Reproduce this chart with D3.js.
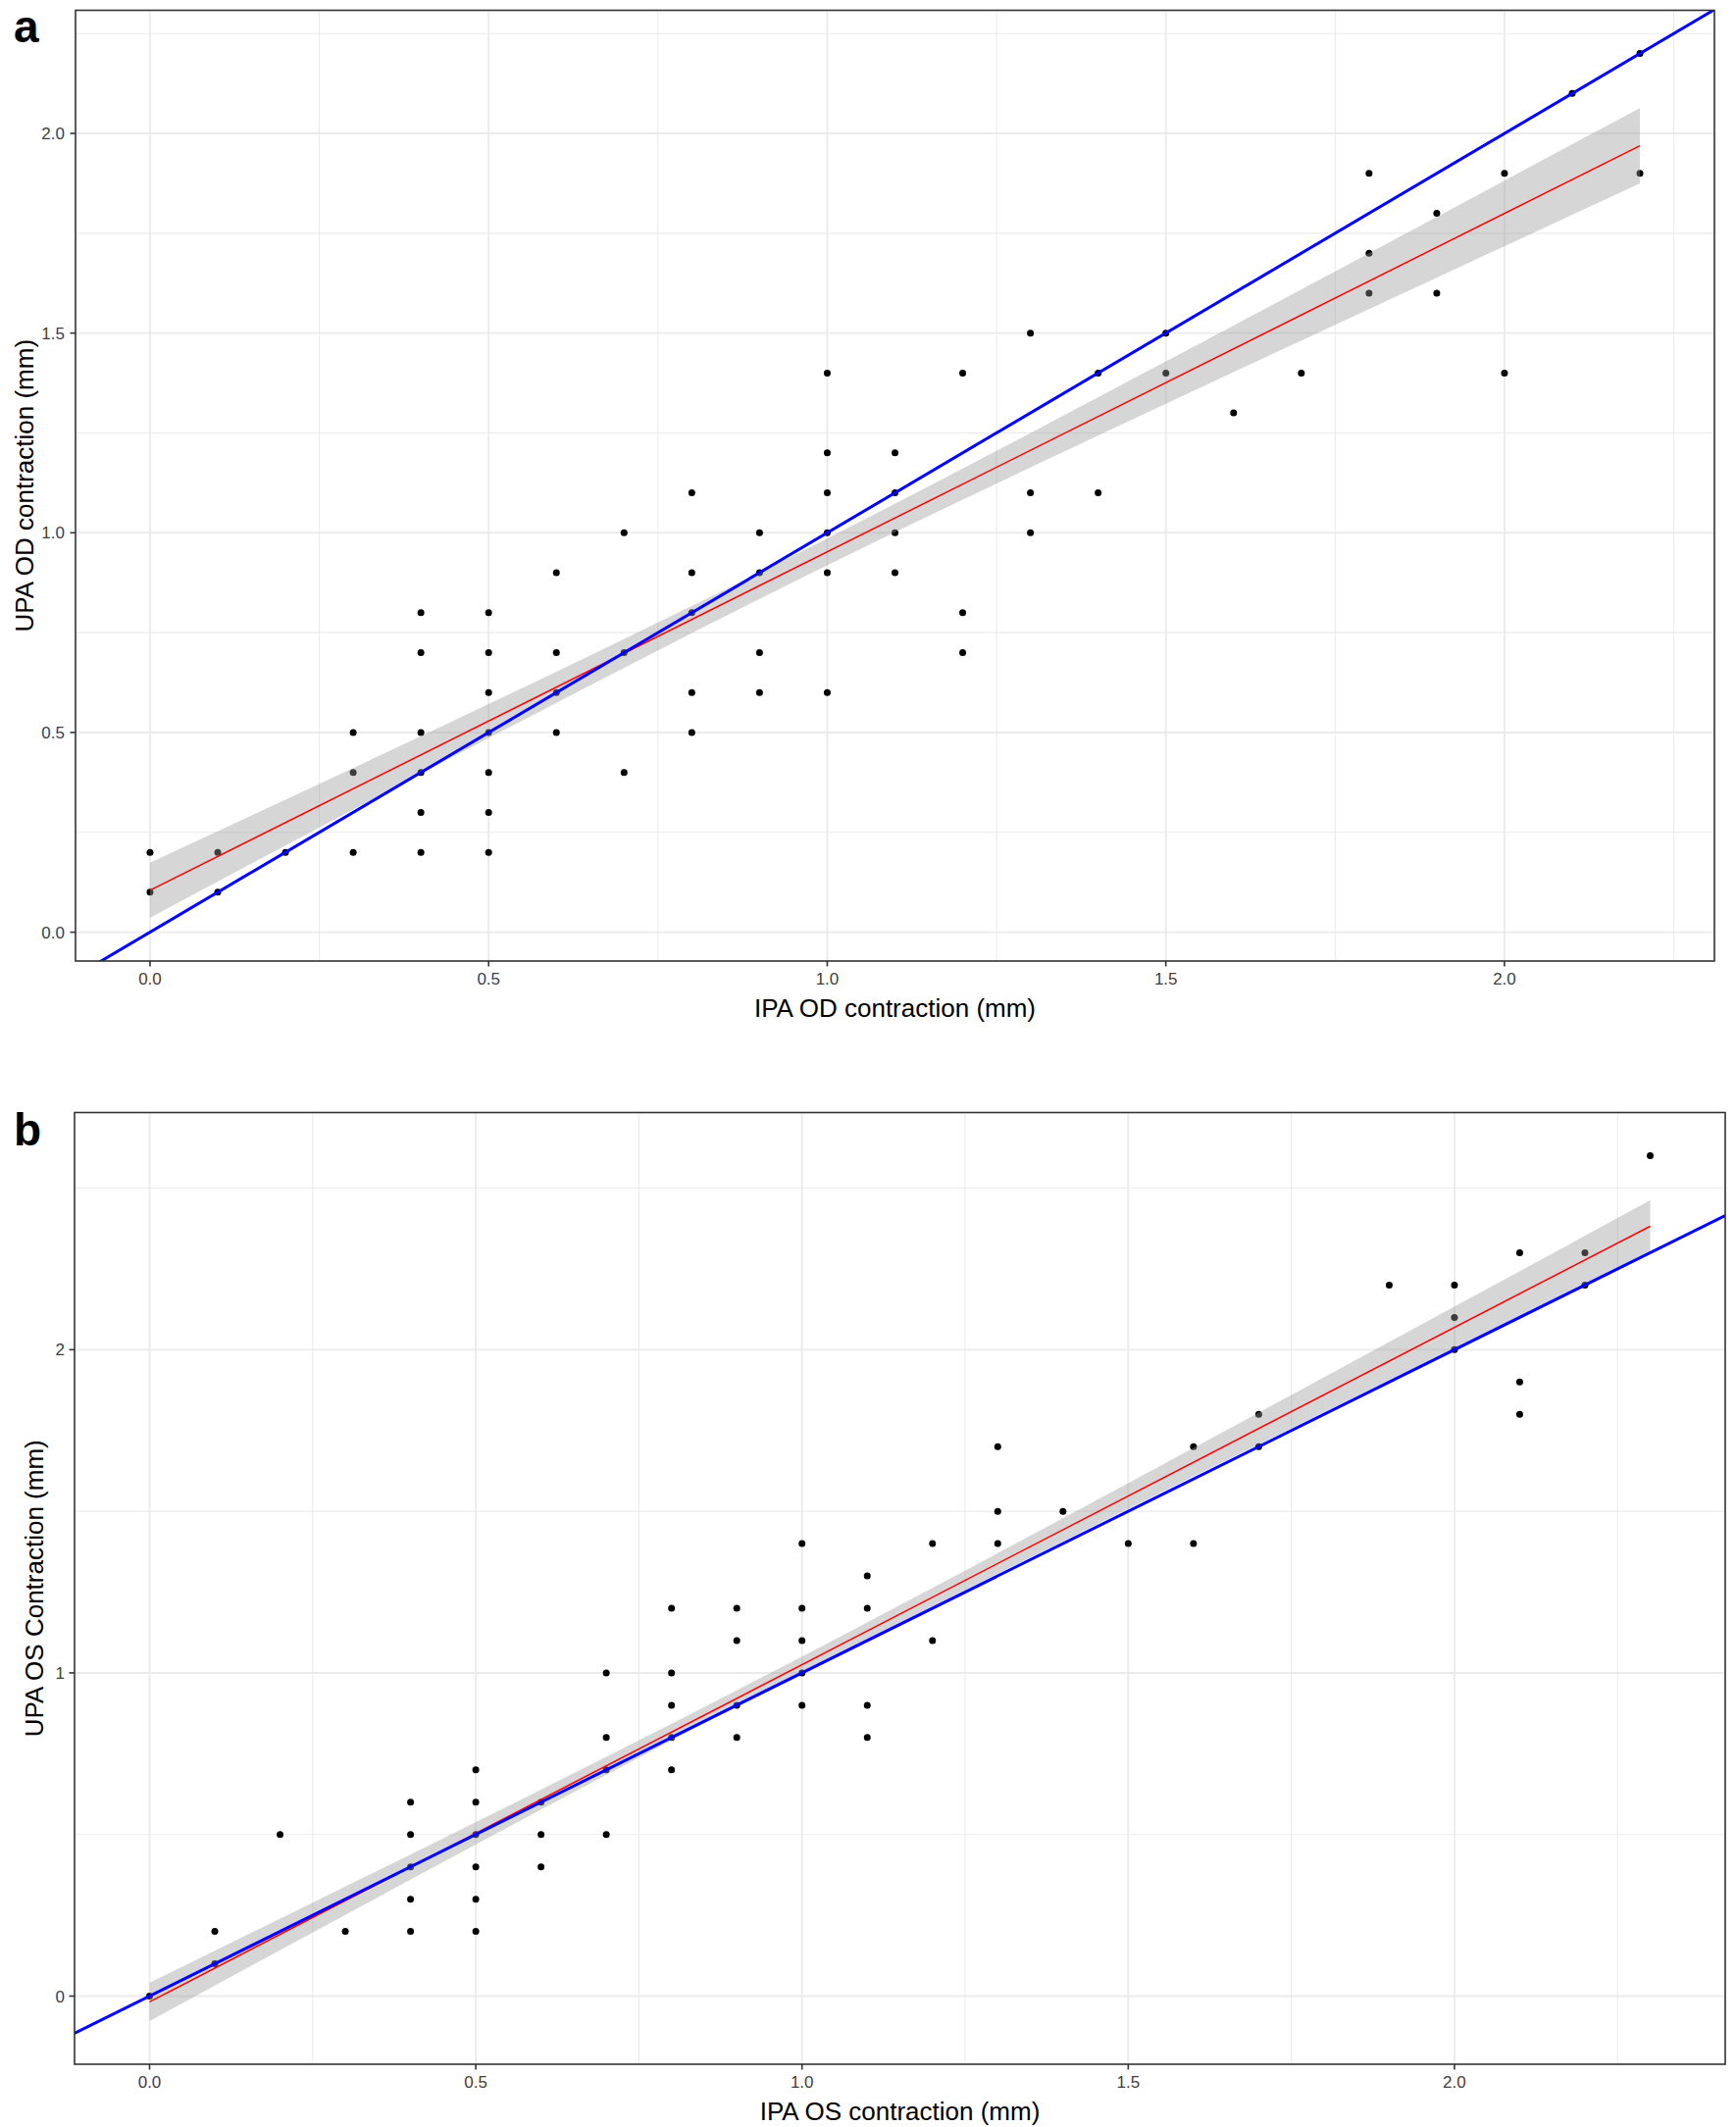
<!DOCTYPE html>
<html><head><meta charset="utf-8">
<script src="https://cdn.jsdelivr.net/npm/d3@7"></script>
<style>
html,body{margin:0;padding:0;background:#fff;}
svg{display:block;}
text{font-family:"Liberation Sans",Arial,Helvetica,sans-serif;}
</style></head><body>
<svg id="chart" width="1770" height="2169"></svg>
<script>
// ---------- Panel a : OD ----------
const ipaOD = [0,0,0.1,0.1,0.2,0.3,0.3,0.3,0.4,0.4,0.4,0.4,0.4,0.4,0.5,0.5,0.5,0.5,0.5,0.5,0.5,0.6,0.6,0.6,0.6,0.7,0.7,0.7,0.8,0.8,0.8,0.8,0.8,0.9,0.9,0.9,0.9,1.0,1.0,1.0,1.0,1.0,1.0,1.1,1.1,1.1,1.1,1.2,1.2,1.2,1.3,1.3,1.3,1.4,1.4,1.5,1.5,1.6,1.7,1.8,1.8,1.8,1.9,1.9,2.0,2.0,2.1,2.2,2.2];
const upaOD = [0.2,0.1,0.2,0.1,0.2,0.5,0.4,0.2,0.8,0.7,0.5,0.4,0.3,0.2,0.8,0.7,0.6,0.5,0.4,0.3,0.2,0.9,0.7,0.6,0.5,1.0,0.7,0.4,1.1,0.9,0.8,0.6,0.5,1.0,0.9,0.7,0.6,1.4,1.2,1.1,1.0,0.9,0.6,1.2,1.1,1.0,0.9,1.4,0.8,0.7,1.5,1.1,1.0,1.4,1.1,1.5,1.4,1.3,1.4,1.9,1.7,1.6,1.8,1.6,1.9,1.4,2.1,2.2,1.9];
// fitted lm line and its 95% CI half-width
const fitXOD = [0, 2.2];
const fitYOD = [0.105, 1.969];
const bandXOD = [0, 0.3, 0.6, 0.9, 1.2, 1.5, 1.8, 2.2];
const bandHwOD = [0.069, 0.052, 0.039, 0.033, 0.039, 0.053, 0.070, 0.094];

// ---------- Panel b : OS ----------
const ipaOS = [0,0.1,0.1,0.2,0.3,0.4,0.4,0.4,0.4,0.4,0.5,0.5,0.5,0.5,0.5,0.5,0.6,0.6,0.6,0.7,0.7,0.7,0.7,0.8,0.8,0.8,0.8,0.8,0.9,0.9,0.9,0.9,1.0,1.0,1.0,1.0,1.0,1.1,1.1,1.1,1.1,1.2,1.2,1.3,1.3,1.3,1.4,1.5,1.6,1.6,1.7,1.7,1.9,2.0,2.0,2.0,2.1,2.1,2.1,2.2,2.2,2.3];
const upaOS = [0,0.2,0.1,0.5,0.2,0.6,0.5,0.4,0.3,0.2,0.7,0.6,0.5,0.4,0.3,0.2,0.6,0.5,0.4,1.0,0.8,0.7,0.5,1.2,1.0,0.9,0.8,0.7,1.2,1.1,0.9,0.8,1.4,1.2,1.1,1.0,0.9,1.3,1.2,0.9,0.8,1.4,1.1,1.7,1.5,1.4,1.5,1.4,1.7,1.4,1.8,1.7,2.2,2.2,2.1,2.0,2.3,1.9,1.8,2.3,2.2,2.6];
const fitXOS = [0, 2.3];
const fitYOS = [-0.018, 2.382];
const bandXOS = [0, 0.3, 0.6, 0.9, 1.2, 1.5, 1.8, 2.3];
const bandHwOS = [0.059, 0.044, 0.031, 0.025, 0.029, 0.040, 0.054, 0.080];

// ---------- Axis ticks ----------
const xTicks = [0, 0.5, 1.0, 1.5, 2.0];
const xTickLabels = ["0.0", "0.5", "1.0", "1.5", "2.0"];
const xMinor = [0.25, 0.75, 1.25, 1.75, 2.25];
const yTicksOD = [0, 0.5, 1.0, 1.5, 2.0];
const yTickLabelsOD = ["0.0", "0.5", "1.0", "1.5", "2.0"];
const yMinorOD = [0.25, 0.75, 1.25, 1.75, 2.25];
const yTicksOS = [0, 1, 2];
const yTickLabelsOS = ["0", "1", "2"];
const yMinorOS = [0.5, 1.5, 2.5];

const svg = d3.select("#chart");
svg.append("rect").attr("width", 1770).attr("height", 2169).attr("fill", "#fff");

function expand(ext) { const r = ext[1] - ext[0]; return [ext[0] - 0.05 * r, ext[1] + 0.05 * r]; }

function drawPanel(o) {
  const g = svg.append("g");
  const fit = d3.scaleLinear().domain(o.fitX).range(o.fitY);
  const band = o.bandX.map((x, i) => ({x, lo: fit(x) - o.bandHw[i], hi: fit(x) + o.bandHw[i]}));
  const xExt = d3.extent(o.xs);
  const yExt = d3.extent(o.ys.concat(band.map(d => d.lo), band.map(d => d.hi)));
  const x = d3.scaleLinear().domain(expand(xExt)).range([o.left, o.right]);
  const y = d3.scaleLinear().domain(expand(yExt)).range([o.bottom, o.top]);

  const clipId = "clip-" + o.id;
  svg.append("defs").append("clipPath").attr("id", clipId)
    .append("rect").attr("x", o.left).attr("y", o.top)
    .attr("width", o.right - o.left).attr("height", o.bottom - o.top);

  const p = g.append("g").attr("clip-path", `url(#${clipId})`);
  // minor grid
  p.selectAll(".vmin").data(o.xMinor).join("line")
    .attr("x1", d => x(d)).attr("x2", d => x(d)).attr("y1", o.top).attr("y2", o.bottom)
    .attr("stroke", "#ebebeb").attr("stroke-width", 1.1);
  p.selectAll(".hmin").data(o.yMinor).join("line")
    .attr("y1", d => y(d)).attr("y2", d => y(d)).attr("x1", o.left).attr("x2", o.right)
    .attr("stroke", "#ebebeb").attr("stroke-width", 1.1);
  // major grid
  p.selectAll(".vmaj").data(o.xTicks).join("line")
    .attr("x1", d => x(d)).attr("x2", d => x(d)).attr("y1", o.top).attr("y2", o.bottom)
    .attr("stroke", "#ebebeb").attr("stroke-width", 1.9);
  p.selectAll(".hmaj").data(o.yTicks).join("line")
    .attr("y1", d => y(d)).attr("y2", d => y(d)).attr("x1", o.left).attr("x2", o.right)
    .attr("stroke", "#ebebeb").attr("stroke-width", 1.9);

  // points
  p.selectAll("circle").data(o.xs.map((v, i) => [v, o.ys[i]])).join("circle")
    .attr("cx", d => x(d[0])).attr("cy", d => y(d[1])).attr("r", 3.5).attr("fill", "#000");

  // confidence ribbon
  p.append("path").datum(band)
    .attr("d", d3.area().x(d => x(d.x)).y0(d => y(d.lo)).y1(d => y(d.hi)).curve(d3.curveNatural))
    .attr("fill", "#999999").attr("fill-opacity", 0.4);
  // regression line
  p.append("path").datum(o.fitX.map((v, i) => [v, o.fitY[i]]))
    .attr("d", d3.line().x(d => x(d[0])).y(d => y(d[1])))
    .attr("stroke", "#ff0000").attr("stroke-width", 1.5).attr("fill", "none");
  // identity line
  const xd = x.domain();
  p.append("path").datum([xd[0], xd[1]])
    .attr("d", d3.line().x(d => x(d)).y(d => y(d)))
    .attr("stroke", "#0000ff").attr("stroke-width", 3).attr("fill", "none");

  // border
  g.append("rect").attr("x", o.left).attr("y", o.top)
    .attr("width", o.right - o.left).attr("height", o.bottom - o.top)
    .attr("fill", "none").attr("stroke", "#333333").attr("stroke-width", 1.6);

  // axes ticks
  g.selectAll(".xt").data(o.xTicks).join("line")
    .attr("x1", d => x(d)).attr("x2", d => x(d)).attr("y1", o.bottom).attr("y2", o.bottom + 5.5)
    .attr("stroke", "#333333").attr("stroke-width", 1.6);
  g.selectAll(".yt").data(o.yTicks).join("line")
    .attr("y1", d => y(d)).attr("y2", d => y(d)).attr("x1", o.left - 5.5).attr("x2", o.left)
    .attr("stroke", "#333333").attr("stroke-width", 1.6);
  g.selectAll(".xl").data(o.xTicks).join("text")
    .attr("x", d => x(d)).attr("y", o.bottom + 24).attr("text-anchor", "middle")
    .attr("font-size", 17).attr("fill", "#404040")
    .text((d, i) => o.xTickLabels[i]);
  g.selectAll(".yl").data(o.yTicks).join("text")
    .attr("x", 66).attr("y", d => y(d) + 6).attr("text-anchor", "end")
    .attr("font-size", 17).attr("fill", "#404040")
    .text((d, i) => o.yTickLabels[i]);

  // titles
  g.append("text").attr("x", (o.left + o.right) / 2).attr("y", o.bottom + 57)
    .attr("text-anchor", "middle").attr("font-size", 26).attr("fill", "#000").text(o.xTitle);
  g.append("text").attr("transform", `translate(${o.yTitleX},${(o.top + o.bottom) / 2}) rotate(-90)`)
    .attr("text-anchor", "middle").attr("font-size", 26).attr("fill", "#000").text(o.yTitle);
  g.append("text").attr("x", 14).attr("y", o.letterY)
    .attr("font-size", 46).attr("font-weight", "bold").attr("fill", "#000").text(o.letter);
}

drawPanel({
  id: "a", xs: ipaOD, ys: upaOD, fitX: fitXOD, fitY: fitYOD, bandX: bandXOD, bandHw: bandHwOD,
  left: 77, right: 1748, top: 10.5, bottom: 980,
  xTicks, xTickLabels, xMinor, yTicks: yTicksOD, yTickLabels: yTickLabelsOD, yMinor: yMinorOD,
  xTitle: "IPA OD contraction (mm)", yTitle: "UPA OD contraction (mm)", yTitleX: 34,
  letter: "a", letterY: 42.5
});
drawPanel({
  id: "b", xs: ipaOS, ys: upaOS, fitX: fitXOS, fitY: fitYOS, bandX: bandXOS, bandHw: bandHwOS,
  left: 76, right: 1759, top: 1134.5, bottom: 2105,
  xTicks, xTickLabels, xMinor, yTicks: yTicksOS, yTickLabels: yTickLabelsOS, yMinor: yMinorOS,
  xTitle: "IPA OS contraction (mm)", yTitle: "UPA OS Contraction (mm)", yTitleX: 44,
  letter: "b", letterY: 1168
});
</script>
</body></html>
